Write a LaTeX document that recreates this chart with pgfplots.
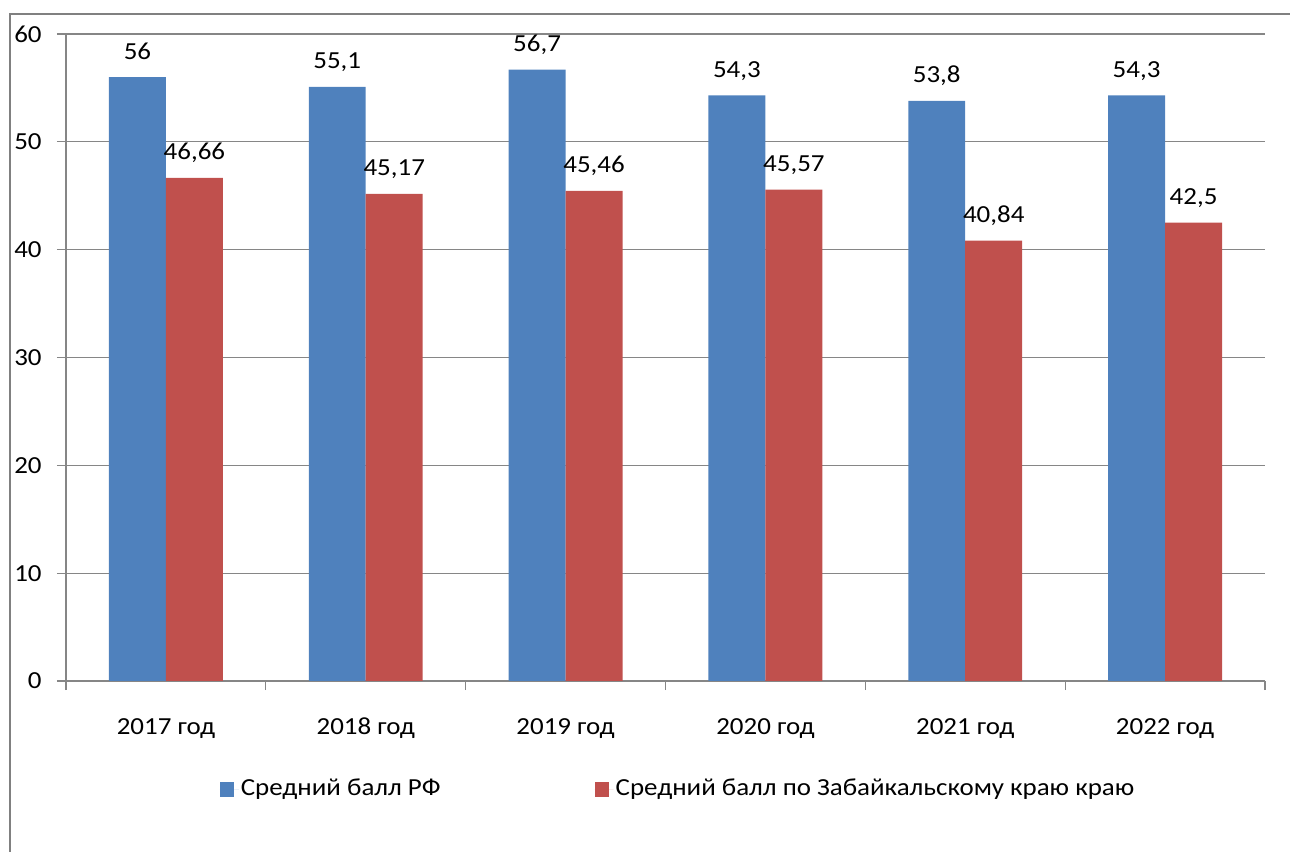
\documentclass[border=0pt]{standalone}
\usepackage{fontspec}
\setmainfont{Carlito}[FakeStretch=1.1]
\usepackage{pgfplots}
\pgfplotsset{compat=1.18}
\definecolor{rfblue}{RGB}{79,129,189}
\definecolor{zabred}{RGB}{192,80,77}
\definecolor{gridgray}{RGB}{134,134,134}
\definecolor{framegray}{RGB}{128,128,128}
\newcommand{\chartfont}{\fontsize{24.5bp}{28bp}\selectfont}
\begin{document}
\chartfont
\begin{tikzpicture}
\useasboundingbox (0,0) rectangle (1290bp,852bp);
\draw[framegray, line width=2.5bp] (10bp,0) -- (10bp,838bp) -- (1290bp,838bp);
\begin{axis}[
  at={(66bp,171bp)}, anchor=south west,
  scale only axis, width=1199bp, height=647bp,
  xmin=-0.5, xmax=5.5, ymin=0, ymax=60,
  ytick={0,10,...,60},
  xtick={0,...,5},
  xticklabels={2017 год,2018 год,2019 год,2020 год,2021 год,2022 год},
  minor xtick={-0.5,0.5,...,5.5},
  major x tick style={draw=none},
  minor x tick style={gridgray, line width=1.2bp},
  y tick style={gridgray, line width=1.2bp},
  tick align=outside, major tick length=9bp, minor tick length=9bp,
  axis x line*=bottom, axis y line*=left,
  axis line style={gridgray, line width=1.2bp, -},
  ymajorgrids, grid style={gridgray, line width=1.2bp},
  ticklabel style={font=\chartfont},
  /pgf/number format/assume math mode=true,
  xticklabel style={anchor=base, yshift=-44bp},
  yticklabel style={xshift=-7bp},
  ybar, bar width=0.285,
  nodes near coords,
  nodes near coords style={font=\chartfont, anchor=base, yshift=18bp,
    /pgf/number format/.cd, use comma, fixed, precision=2},
  legend style={at={(0.5105,-0.167)}, anchor=center, draw=none, fill=none,
    legend columns=2, font=\chartfont,
    /tikz/every even column/.append style={column sep=152bp},
    inner sep=0pt},
  legend image code/.code={\fill[#1, draw=none] (0bp,-7.5bp) rectangle (14bp,7.5bp);
    \path (0bp,0bp) -- (19bp,0bp);},
]
\addplot[fill=rfblue, draw=none, bar shift=-0.1425] coordinates {
  (0,56) (1,55.1) (2,56.7) (3,54.3) (4,53.8) (5,54.3)};
\addlegendentry{Средний балл РФ}
\addplot[fill=zabred, draw=none, bar shift=0.1425] coordinates {
  (0,46.66) (1,45.17) (2,45.46) (3,45.57) (4,40.84) (5,42.5)};
\addlegendentry{Средний балл по Забайкальскому краю краю}
\end{axis}
\end{tikzpicture}
\end{document}
